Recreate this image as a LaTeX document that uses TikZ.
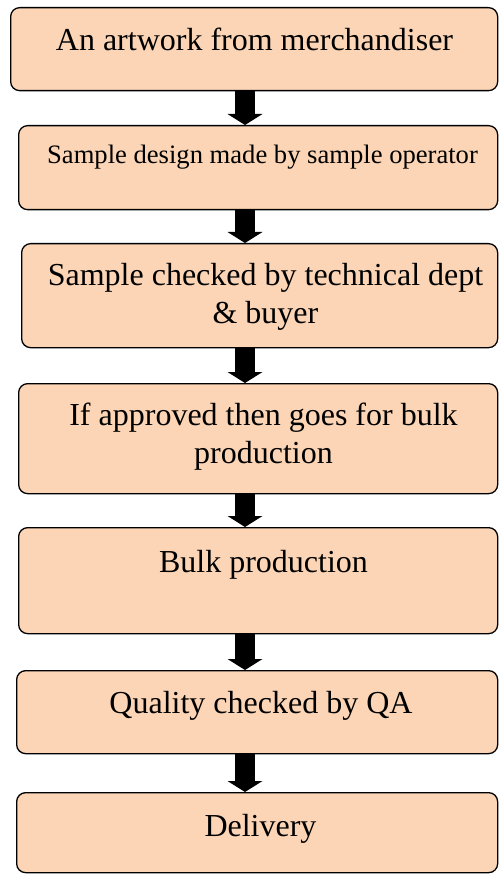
\documentclass[tikz,border=0pt]{standalone}
\usepackage{fontspec}
\setmainfont{Liberation Serif}
\usetikzlibrary{arrows.meta}
\definecolor{peach}{HTML}{FBD5B5}
\begin{document}
\begin{tikzpicture}[x=1pt,y=-1pt,
  box/.style={draw=black, line width=1.3pt, fill=peach, rounded corners=9pt,
    anchor=north west, inner sep=0pt},
  lbl/.style={anchor=base, inner sep=0pt, align=center,
    font=\fontsize{32}{38}\selectfont},
  arr/.style={line width=20pt, -{Triangle[width=35pt,length=11pt,line width=0pt]}}]
\useasboundingbox (0,0) rectangle (499,874);
\coordinate (ax) at (245,0);
\node[box, minimum width=487pt, minimum height=83pt]  (b1) at (10,7) {};
\node[box, minimum width=479pt, minimum height=84pt]  (b2) at (18,125) {};
\node[box, minimum width=476pt, minimum height=104pt] (b3) at (21,243) {};
\node[box, minimum width=479pt, minimum height=110pt] (b4) at (18,383) {};
\node[box, minimum width=479pt, minimum height=106pt] (b5) at (18,527) {};
\node[box, minimum width=481pt, minimum height=83pt]  (b6) at (16,670) {};
\node[box, minimum width=481pt, minimum height=80pt]  (b7) at (16,792) {};
\node[lbl] (t1) at (254.5,51) {An artwork from merchandiser};
\node[lbl, font=\fontsize{26.6}{32}\selectfont] (t2) at (262.5,164) {Sample design made by sample operator};
\node[lbl] (t3) at (265.5,323) {Sample checked by technical dept\\\& buyer};
\node[lbl] (t4) at (263.5,463) {If approved then goes for bulk\\production};
\node[lbl] (t5) at (263.5,572) {Bulk production};
\node[lbl] (t6) at (261,713) {Quality checked by QA};
\node[lbl] (t7) at (260.5,836) {Delivery};
\draw[arr] (b1.south -| ax) -- (b2.north -| ax);
\draw[arr] (b2.south -| ax) -- (b3.north -| ax);
\draw[arr] (b3.south -| ax) -- (b4.north -| ax);
\draw[arr] (b4.south -| ax) -- (b5.north -| ax);
\draw[arr] (b5.south -| ax) -- (b6.north -| ax);
\draw[arr] (b6.south -| ax) -- (b7.north -| ax);
\end{tikzpicture}
\end{document}
